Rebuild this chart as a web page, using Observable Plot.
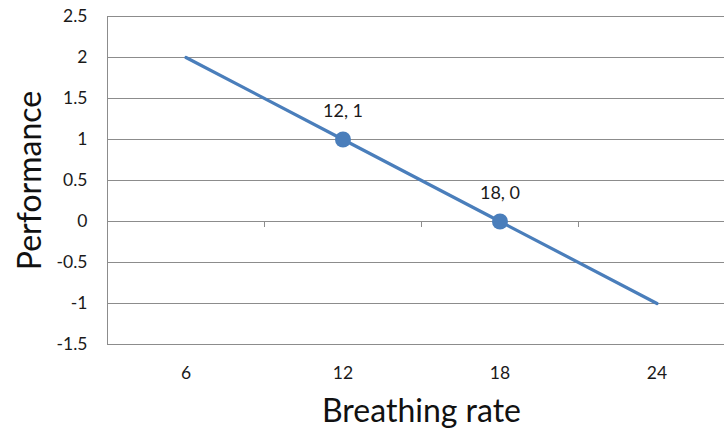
<!DOCTYPE html>
<html>
<head>
<meta charset="utf-8">
<script src="https://cdn.jsdelivr.net/npm/d3@7"></script>
<script src="https://cdn.jsdelivr.net/npm/@observablehq/plot@0.6"></script>
<style>
  html, body { margin: 0; padding: 0; background: #fff; }
  svg { display: block; }
</style>
</head>
<body>
<div id="chart"></div>
<script>
const breathingRate = [6, 12, 18, 24];
const performance = [2, 1, 0, -1];
const labeledRates = [12, 18];
const yTicks = [-1.5, -1, -0.5, 0, 0.5, 1, 1.5, 2, 2.5];
const categoryEdges = [9, 15, 21];

const lineData = breathingRate.map((x, i) => ({x, y: performance[i]}));
const markerData = lineData.filter(d => labeledRates.includes(d.x));

const blue = "#4a7ebb";
const grid = "#8c8c8c";
const font = "Lato, 'Open Sans', sans-serif";

const chart = Plot.plot({
  width: 724,
  height: 432,
  marginLeft: 107,
  marginRight: 0,
  marginTop: 16,
  marginBottom: 88,
  style: {fontFamily: font, fontSize: "17px", color: "#222", background: "#fff"},
  x: {domain: [3, 26.58]},
  y: {domain: [-1.5, 2.5]},
  marks: [
    Plot.ruleY(yTicks, {stroke: grid, strokeWidth: 1}),
    Plot.ruleX([3], {stroke: grid, strokeWidth: 1}),
    Plot.ruleX(categoryEdges, {y1: 0, y2: 0, insetBottom: -6, stroke: grid, strokeWidth: 1}),
    Plot.axisY(yTicks, {tickSize: 0, tickPadding: 20, label: null, tickFormat: d => String(d), fill: "#1a1a1a", fontSize: 17.5}),
    Plot.axisX(breathingRate, {tickSize: 0, tickPadding: 22, label: null, fill: "#1a1a1a", fontSize: 17.5}),
    Plot.line(lineData, {x: "x", y: "y", stroke: blue, strokeWidth: 3.2}),
    Plot.dot(markerData, {x: "x", y: "y", r: 8, fill: blue, stroke: "none"}),
    Plot.text(markerData, {x: "x", y: "y", text: d => `${d.x}, ${d.y}`, dy: -28, fontSize: 18, fill: "#1a1a1a"}),
    Plot.text(["Performance"], {frameAnchor: "left", textAnchor: "middle", dx: -77, rotate: -90, fontSize: 32, fill: "#111"}),
    Plot.text(["Breathing rate"], {x: () => 15, frameAnchor: "bottom", dy: 77, fontSize: 32, fill: "#111"})
  ]
});
document.getElementById("chart").appendChild(chart);
</script>
</body>
</html>
